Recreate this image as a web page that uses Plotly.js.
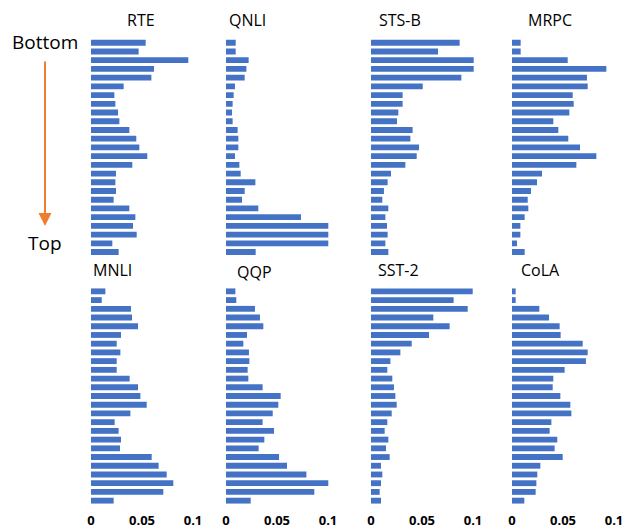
<!DOCTYPE html>
<html>
<head>
<meta charset="utf-8">
<script src="https://cdn.plot.ly/plotly-3.0.1.min.js"></script>
<style>html,body{margin:0;padding:0;background:#fff;}#chart{width:625px;height:531px;}</style>
</head>
<body>
<div id="chart"></div>
<script>
// Layers listed from bottom (first) to top (last)
const layers = ['L1','L2','L3','L4','L5','L6','L7','L8','L9','L10','L11','L12','L13','L14','L15','L16','L17','L18','L19','L20','L21','L22','L23','L24','L25'];
const taskNames = ['RTE','QNLI','STS-B','MRPC','MNLI','QQP','SST-2','CoLA'];
const xTickVals = [0, 0.05, 0.1];
const xTickText = ['0', '0.05', '0.1'];

const rte  = [0.0536,0.0467,0.0954,0.0618,0.0592,0.0320,0.0229,0.0239,0.0265,0.0278,0.0376,0.0444,0.0474,0.0552,0.0405,0.0245,0.0239,0.0245,0.0222,0.0376,0.0435,0.0412,0.0448,0.0209,0.0271];
const qnli = [0.0095,0.0095,0.0222,0.0200,0.0183,0.0088,0.0075,0.0065,0.0059,0.0065,0.0114,0.0121,0.0121,0.0088,0.0131,0.0144,0.0288,0.0183,0.0157,0.0317,0.0735,0.1003,0.1003,0.1003,0.0291];
const stsb = [0.0869,0.0657,0.1007,0.1007,0.0886,0.0507,0.0310,0.0310,0.0268,0.0255,0.0408,0.0386,0.0471,0.0448,0.0337,0.0196,0.0163,0.0127,0.0111,0.0170,0.0141,0.0157,0.0163,0.0141,0.0170];
const mrpc = [0.0085,0.0085,0.0546,0.0925,0.0735,0.0742,0.0595,0.0605,0.0562,0.0405,0.0454,0.0552,0.0667,0.0827,0.0631,0.0294,0.0245,0.0186,0.0154,0.0160,0.0124,0.0082,0.0082,0.0049,0.0124];
const mnli = [0.0141,0.0105,0.0392,0.0402,0.0461,0.0294,0.0252,0.0288,0.0252,0.0252,0.0379,0.0461,0.0484,0.0546,0.0386,0.0232,0.0271,0.0294,0.0284,0.0595,0.0663,0.0742,0.0807,0.0709,0.0222];
const qqp  = [0.0092,0.0101,0.0284,0.0333,0.0366,0.0206,0.0170,0.0225,0.0229,0.0212,0.0219,0.0359,0.0536,0.0513,0.0458,0.0359,0.0471,0.0376,0.0320,0.0520,0.0598,0.0788,0.1003,0.0866,0.0242];
const sst2 = [0.0997,0.0810,0.0948,0.0611,0.0771,0.0569,0.0399,0.0288,0.0190,0.0160,0.0209,0.0225,0.0239,0.0252,0.0203,0.0160,0.0134,0.0170,0.0147,0.0183,0.0098,0.0111,0.0098,0.0085,0.0098];
const cola = [0.0036,0.0036,0.0268,0.0363,0.0467,0.0477,0.0693,0.0742,0.0725,0.0516,0.0405,0.0399,0.0474,0.0572,0.0582,0.0386,0.0369,0.0444,0.0418,0.0497,0.0278,0.0248,0.0239,0.0232,0.0121];
const series = [rte, qnli, stsb, mrpc, mnli, qqp, sst2, cola];

const W = 625, H = 531;
const colZero = [91, 226, 371, 512];
const pxPerUnit = 1020; // pixels per 1.0 of value
const xMax = 0.105;
const rowTop = [38.4, 287];
const rowBot = [256.4, 505];
const titlePos = [[141,20],[247,20],[400,20],[550,20],[112,270],[255,272],[398,270],[540,270]];
const FONT = 'Open Sans, Liberation Sans, Arial, sans-serif';

const data = [];
const layout = {
  width: W, height: H,
  margin: {l:0, r:0, t:0, b:0},
  paper_bgcolor: '#ffffff', plot_bgcolor: '#ffffff',
  showlegend: false,
  bargap: 0.33,
  font: {family: FONT, color: '#000'},
  annotations: [],
  shapes: []
};

series.forEach((vals, i) => {
  const idx = i + 1;
  const row = Math.floor(i / 4), col = i % 4;
  const xa = 'x' + (idx === 1 ? '' : idx), ya = 'y' + (idx === 1 ? '' : idx);
  data.push({
    type: 'bar', orientation: 'h',
    x: vals, y: layers,
    xaxis: xa, yaxis: ya,
    marker: {color: '#4472C4', line: {width: 0}},
    hoverinfo: 'x'
  });
  const x0 = colZero[col] / W;
  const x1 = (colZero[col] + xMax * pxPerUnit) / W;
  layout['xaxis' + (idx === 1 ? '' : idx)] = {
    domain: [x0, x1], range: [0, xMax], anchor: ya,
    showgrid: false, zeroline: false, showline: false, ticks: '',
    tickvals: xTickVals, ticktext: xTickText,
    showticklabels: row === 1,
    ticklabelstandoff: 6,
    tickfont: {size: 13, family: FONT, weight: 'bold', color: '#000'}
  };
  layout['yaxis' + (idx === 1 ? '' : idx)] = {
    domain: [1 - rowBot[row] / H, 1 - rowTop[row] / H], anchor: xa,
    autorange: 'reversed', showgrid: false, zeroline: false, showline: false,
    showticklabels: false, ticks: '', type: 'category'
  };
  layout.annotations.push({
    text: taskNames[i], xref: 'paper', yref: 'paper',
    x: titlePos[i][0] / W, y: 1 - titlePos[i][1] / H,
    xanchor: 'center', yanchor: 'middle', showarrow: false,
    font: {size: 16, family: FONT, color: '#000'}
  });
});

layout.annotations.push({
  text: 'Bottom', xref: 'paper', yref: 'paper', x: 45 / W, y: 1 - 42 / H,
  xanchor: 'center', yanchor: 'middle', showarrow: false,
  font: {size: 19, family: FONT, color: '#000'}
});
layout.annotations.push({
  text: 'Top', xref: 'paper', yref: 'paper', x: 45 / W, y: 1 - 243 / H,
  xanchor: 'center', yanchor: 'middle', showarrow: false,
  font: {size: 19, family: FONT, color: '#000'}
});
// orange arrow from Bottom to Top
layout.annotations.push({
  text: '', xref: 'paper', yref: 'paper', axref: 'paper', ayref: 'paper',
  x: 45 / W, y: 1 - 226 / H, ax: 45 / W, ay: 1 - 60 / H,
  showarrow: true, arrowhead: 2, arrowsize: 1.3, arrowwidth: 2, arrowcolor: '#ED7D31'
});

Plotly.newPlot('chart', data, layout, {staticPlot: true});
</script>
</body>
</html>
